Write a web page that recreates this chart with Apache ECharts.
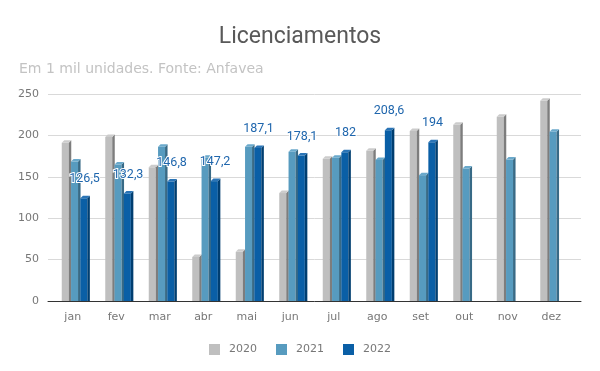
<!DOCTYPE html>
<html><head><meta charset="utf-8">
<script src="https://cdn.jsdelivr.net/npm/echarts@6/dist/echarts.min.js"></script>
<style>html,body{margin:0;padding:0;background:#fff}#c{width:600px;height:371px}</style>
</head><body><div id="c"></div>
<script>
var categories = ['jan','fev','mar','abr','mai','jun','jul','ago','set','out','nov','dez'];
var v2020 = [193.5, 200.4, 163.8, 55.6, 61.8, 132.8, 174.2, 183.8, 207.8, 215.3, 224.8, 244.3];
var v2021 = [170.8, 167.3, 188.8, 175.4, 188.8, 182.8, 175.4, 172.8, 154.4, 162.5, 173.4, 206.8];
var v2022 = [126.5, 132.3, 146.8, 147.2, 187.1, 178.1, 182, 208.6, 194];
var yTicks = [0, 50, 100, 150, 200, 250];

var seriesInfo = [
  {name:'2020', data:v2020, front:'#bfbfbf', side:'#7d7d7d', top:'#cccccc', off:-11, label:false},
  {name:'2021', data:v2021, front:'#579bbf', side:'#386a86', top:'#6aa9cb', off:-1.7, label:false},
  {name:'2022', data:v2022, front:'#0a5fa6', side:'#003e70', top:'#2a74b6', off:7.6, label:true}
];
var W = 7, D = 2.5;

function makeRender(info){
  return function(params, api){
    var idx = api.value(0), val = api.value(1);
    var p = api.coord([idx, val]);
    var b = api.coord([idx, 0]);
    var x0 = p[0] + info.off, x1 = x0 + W;
    var capTop = p[1] - 0.5;
    var yt = capTop + D;
    var y0 = b[1];
    var children = [
      {type:'rect', shape:{x:x0, y:yt, width:W, height:y0-yt}, style:{fill:info.front}},
      {type:'polygon', shape:{points:[[x1,yt],[x1+D,capTop],[x1+D,y0],[x1,y0]]}, style:{fill:info.side}},
      {type:'polygon', shape:{points:[[x0,yt],[x0+D,capTop],[x1+D,capTop],[x1,yt]]}, style:{fill:info.top}}
    ];
    if (info.label) {
      children.push({type:'text', z2:10, style:{
        text: String(val).replace('.', ','),
        x: x0 + (W + D)/2 - 0.5, y: capTop - 16.5,
        align:'center', verticalAlign:'middle',
        fill:'#1f66ad', font:'12.5px Roboto',
        stroke:'#ffffff', lineWidth:2
      }});
    }
    return {type:'group', children:children};
  };
}

var chart = echarts.init(document.getElementById('c'), null, {renderer:'canvas'});
var series = seriesInfo.map(function(info){
  var d = [];
  info.data.forEach(function(v,i){ if (v != null) d.push([i, v]); });
  return {
    name: info.name, type:'custom', xAxisIndex:1, yAxisIndex:1,
    itemStyle:{color:info.front},
    renderItem: makeRender(info),
    data: d
  };
});

chart.setOption({
  animation:false,
  backgroundColor:'#fff',
  title:[
    {text:'Licenciamentos', left:'center', top:21, textStyle:{fontFamily:'Roboto', fontWeight:'normal', fontSize:23, color:'#595959'}},
    {text:'Em 1 mil unidades. Fonte: Anfavea', left:14, top:57, textStyle:{fontFamily:'DejaVu Sans', fontWeight:'normal', fontSize:14, color:'#c3c3c3'}}
  ],
  legend:{
    top:339, left:'center', itemWidth:11, itemHeight:11, itemGap:19, icon:'rect',
    textStyle:{fontFamily:'DejaVu Sans', fontSize:11, color:'#777', padding:[0,0,0,4]},
    data:['2020','2021','2022']
  },
  grid:[
    {left:48, right:19, top:94, bottom:70},
    {left:51, right:27, top:94, bottom:70}
  ],
  xAxis:[
    {type:'category', gridIndex:0, data:categories, axisLine:{lineStyle:{color:'#333', width:1}}, axisTick:{show:false}, axisLabel:{show:false}},
    {type:'category', gridIndex:1, data:categories, axisLine:{show:false}, axisTick:{show:false},
     axisLabel:{margin:11, fontFamily:'DejaVu Sans', fontSize:11, color:'#777'}}
  ],
  yAxis:[
    {type:'value', gridIndex:0, min:yTicks[0], max:yTicks[yTicks.length-1], interval:50,
     axisLine:{show:false}, axisTick:{show:false},
     axisLabel:{margin:9, fontFamily:'DejaVu Sans', fontSize:11, color:'#777'},
     splitLine:{lineStyle:{color:'#d9d9d9'}}},
    {type:'value', gridIndex:1, min:yTicks[0], max:yTicks[yTicks.length-1], interval:50, show:false}
  ],
  series: series
});
</script>
</body></html>
